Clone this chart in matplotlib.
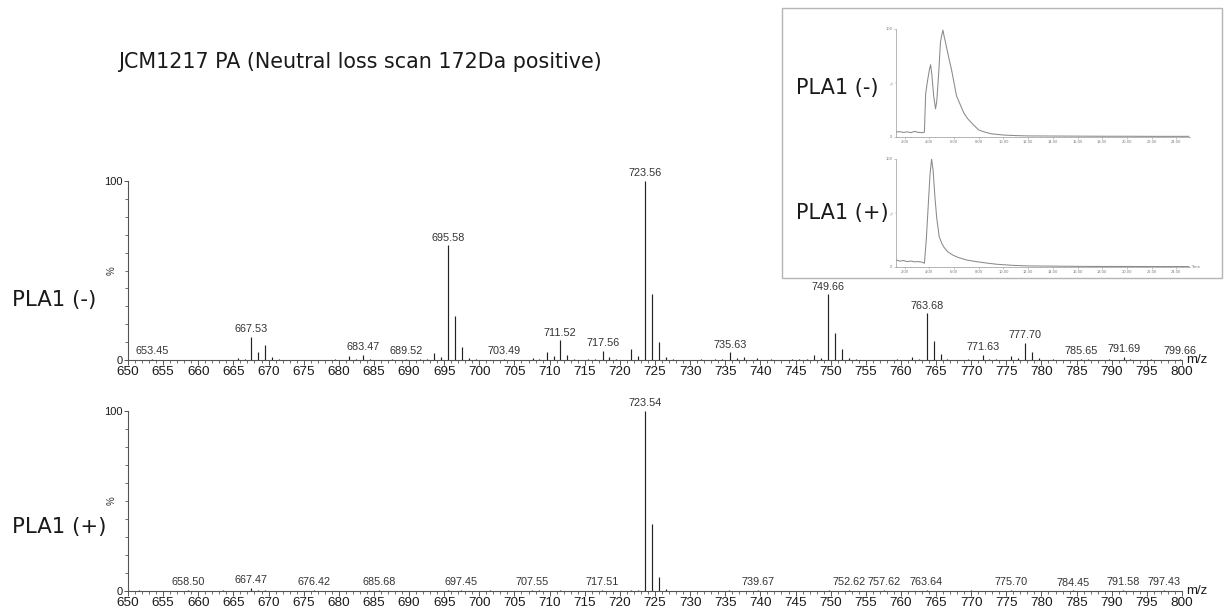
import matplotlib
matplotlib.use('Agg')
import matplotlib.pyplot as plt
from matplotlib.patches import Rectangle
from matplotlib.ticker import MultipleLocator


# Spectrum peaks (m/z, relative intensity %)
top_mz = [653.45, 665.6, 666.6, 667.53, 668.5, 669.5, 670.5, 671.5, 679.5, 681.5,
          682.5, 683.47, 684.5, 687.5, 689.52, 691.5, 692.5, 693.5, 694.5, 695.58,
          696.6, 697.6, 698.5, 699.5, 703.49, 707.6, 708.5, 709.6, 710.6, 711.52,
          712.5, 713.5, 715.5, 716.5, 717.56, 718.5, 719.5, 721.6, 722.6, 723.56,
          724.6, 725.6, 726.6, 727.5, 731.5, 733.6, 734.5, 735.63, 736.6, 737.6,
          739.5, 741.5, 744.5, 745.5, 746.6, 747.6, 748.6, 749.66, 750.6, 751.6,
          752.6, 753.6, 759.5, 761.6, 762.6, 763.68, 764.7, 765.7, 766.6, 769.6,
          771.63, 772.6, 773.6, 775.7, 776.6, 777.70, 778.7, 779.7, 781.6, 785.65,
          786.6, 789.6, 791.69, 792.6, 795.6, 799.66]
top_int = [0.6, 1.2, 0.5, 13.0, 4.3, 8.4, 1.9, 0.5, 0.5, 2.0,
           0.8, 2.8, 0.7, 0.4, 0.6, 0.5, 0.5, 4.0, 1.5, 64.0,
           24.8, 7.0, 1.2, 0.4, 0.6, 1.0, 0.5, 4.5, 2.0, 11.0,
           2.6, 0.8, 0.5, 0.6, 5.0, 1.5, 0.8, 6.3, 2.2, 100.0,
           37.0, 10.0, 1.5, 0.4, 0.7, 0.6, 0.5, 4.3, 1.2, 1.8,
           1.0, 0.5, 0.8, 0.6, 0.6, 3.0, 1.0, 36.7, 15.3, 6.3,
           1.3, 0.5, 0.5, 1.5, 0.6, 26.0, 10.6, 3.1, 0.7, 0.4,
           2.8, 0.8, 0.5, 2.2, 1.0, 9.7, 4.3, 1.0, 0.4, 0.7,
           0.4, 0.5, 1.6, 0.5, 0.4, 0.7]
top_labels = [653.45, 667.53, 683.47, 689.52, 695.58, 703.49, 711.52, 717.56, 723.56,
              735.63, 749.66, 763.68, 771.63, 777.70, 785.65, 791.69, 799.66]

bot_mz = [651.5, 658.50, 663.5, 667.47, 668.5, 669.5, 676.42, 685.68, 695.5, 697.45,
          701.5, 707.55, 708.5, 711.5, 717.51, 721.6, 722.6, 723.54, 724.6, 725.6,
          726.6, 735.6, 739.67, 749.7, 752.62, 757.62, 763.64, 770.0, 775.70, 784.45,
          791.58, 797.43]
bot_int = [0.3, 0.5, 0.3, 1.8, 0.6, 0.5, 0.5, 0.5, 0.3, 0.5,
           0.4, 0.5, 0.3, 0.3, 0.6, 0.4, 0.4, 100.0, 37.0, 7.6,
           1.2, 0.4, 0.5, 0.5, 0.5, 0.5, 0.6, 0.4, 0.5, 0.4,
           0.6, 0.5]
bot_labels = [658.50, 667.47, 676.42, 685.68, 697.45, 707.55, 717.51, 723.54, 739.67,
              752.62, 757.62, 763.64, 775.70, 784.45, 791.58, 797.43]

# Inset chromatograms (time min, %)
chrom1_t = [1.3, 1.6, 1.9, 2.2, 2.5, 2.8, 3.1, 3.4, 3.6, 3.7, 3.85, 4.0, 4.1, 4.2,
            4.35, 4.5, 4.6, 4.75, 4.9, 5.0, 5.1, 5.2, 5.3, 5.45, 5.6, 5.8, 6.0, 6.2,
            6.5, 6.8, 7.1, 7.5, 8.0, 8.5, 9.0, 10.0, 11.0, 12.0, 14.0, 16.0, 18.0,
            20.0, 22.0, 24.0, 25.0]
chrom1_i = [4.5, 5.0, 4.2, 4.8, 4.0, 5.2, 4.3, 4.0, 4.5, 40, 52, 62, 67, 58,
            38, 26, 33, 58, 88, 94, 99, 93, 88, 80, 72, 62, 50, 38,
            30, 22, 17, 12, 6.5, 4.5, 3.0, 1.8, 1.3, 1.0, 0.9, 0.8, 0.7,
            0.7, 0.6, 0.6, 0.6]
chrom2_t = [1.3, 1.6, 1.9, 2.2, 2.5, 2.8, 3.1, 3.4, 3.6, 3.75, 3.9, 4.05, 4.18, 4.3,
            4.45, 4.6, 4.8, 5.0, 5.2, 5.5, 5.9, 6.3, 7.0, 7.8, 8.6, 9.5, 10.8, 12.0,
            14.0, 16.0, 18.0, 20.0, 22.0, 24.0, 25.0]
chrom2_i = [6.5, 5.5, 6.0, 5.0, 5.5, 4.8, 5.0, 4.5, 3.5, 25, 55, 85, 100, 90,
            65, 45, 28, 22, 18, 14, 11, 9, 6.5, 5, 3.7, 2.5, 1.5, 1.0,
            0.8, 0.6, 0.5, 0.5, 0.4, 0.4, 0.4]

W, H = 1230, 610
TXT = '#1a1a1a'
NUM_FONT = 'Liberation Sans'


def px(x, y):
    return x / W, 1 - y / H


def spectrum(ax, mz, inten, labels):
    ax.vlines(mz, 0, inten, color='#222222', lw=0.85)
    for m, i in zip(mz, inten):
        if any(abs(m - l) < 0.005 for l in labels):
            ax.annotate(f'{m:.2f}', (m, i), xytext=(0, 2), textcoords='offset points',
                        ha='center', va='bottom', fontsize=7.8, family=NUM_FONT,
                        color='#333333', annotation_clip=False)
    ax.set_xlim(650, 800)
    ax.set_ylim(0, 100)
    for s in ['top', 'right']:
        ax.spines[s].set_visible(False)
    for s in ['left', 'bottom']:
        ax.spines[s].set_color('#555555')
        ax.spines[s].set_linewidth(0.8)
    ax.xaxis.set_major_locator(MultipleLocator(5))
    ax.xaxis.set_minor_locator(MultipleLocator(1))
    ax.set_yticks([0, 100])
    ax.yaxis.set_minor_locator(MultipleLocator(10))
    ax.tick_params(axis='x', which='major', length=3.5, width=0.7, pad=1,
                   labelsize=9.7, colors='#555555', labelcolor=TXT)
    ax.tick_params(axis='x', which='minor', length=1.8, width=0.6, colors='#555555')
    ax.tick_params(axis='y', which='major', length=3, width=0.7, pad=1,
                   labelsize=8, colors='#555555', labelcolor=TXT)
    ax.tick_params(axis='y', which='minor', length=2, width=0.6, colors='#555555')
    for lab in ax.get_xticklabels() + ax.get_yticklabels():
        lab.set_family(NUM_FONT)
    ax.set_ylabel('%', fontsize=7, family=NUM_FONT, color='#333333')
    ax.yaxis.set_label_coords(-0.011, 0.5)
    ax.text(1.004, 0.0, 'm/z', transform=ax.transAxes, fontsize=9.5, family=NUM_FONT,
            color=TXT, ha='left', va='center')


def chromatogram(ax, t, inten, last):
    ax.plot(t, inten, color='#8a8a8a', lw=0.75)
    ax.set_xlim(1.3, 25.1)
    ax.set_ylim(0, 100)
    ax.patch.set_alpha(0)
    for s in ['top', 'right']:
        ax.spines[s].set_visible(False)
    for s in ['left', 'bottom']:
        ax.spines[s].set_color('#9a9a9a')
        ax.spines[s].set_linewidth(0.5)
    ax.set_xticks(range(2, 25, 2))
    ax.set_xticklabels([f'{v}.00' for v in range(2, 25, 2)])
    ax.xaxis.set_minor_locator(MultipleLocator(0.5))
    ax.set_yticks([0, 100])
    ax.yaxis.set_minor_locator(MultipleLocator(50))
    ax.tick_params(which='major', length=1.5, width=0.4, pad=1, labelsize=2.6,
                   colors='#9a9a9a', labelcolor='#777777')
    ax.tick_params(which='minor', length=0.8, width=0.3, colors='#9a9a9a')
    ax.text(-0.012, 0.5, '%', transform=ax.transAxes, fontsize=2.6, color='#999999',
            ha='center', va='center', rotation=90)
    if last:
        ax.text(1.005, 0.0, 'Time', transform=ax.transAxes, fontsize=2.6,
                color='#777777', ha='left', va='center')


fig = plt.figure(figsize=(12.3, 6.1), dpi=100)

left, right = 128, 1182
ax1 = fig.add_axes([left / W, 1 - 360 / H, (right - left) / W, 179 / H])
ax2 = fig.add_axes([left / W, 1 - 591 / H, (right - left) / W, 180 / H])
spectrum(ax1, top_mz, top_int, top_labels)
spectrum(ax2, bot_mz, bot_int, bot_labels)

fig.text(*px(118, 62), 'JCM1217 PA (Neutral loss scan 172Da positive)', fontsize=14.9,
         family='DejaVu Sans', color=TXT, ha='left', va='center')
fig.text(*px(12, 300), 'PLA1 (-)', fontsize=15.3, family='DejaVu Sans', color=TXT,
         ha='left', va='center')
fig.text(*px(12, 527), 'PLA1 (+)', fontsize=15.3, family='DejaVu Sans', color=TXT,
         ha='left', va='center')

# inset with chromatograms
box = Rectangle(px(782, 278), 440 / W, 270 / H, transform=fig.transFigure,
                facecolor='white', edgecolor='#b5b5b5', lw=1.0, zorder=1)
fig.patches.append(box)
ia1 = fig.add_axes([896 / W, 1 - 137 / H, 294 / W, 108 / H], zorder=2)
ia2 = fig.add_axes([896 / W, 1 - 267 / H, 294 / W, 108 / H], zorder=2)
chromatogram(ia1, chrom1_t, chrom1_i, False)
chromatogram(ia2, chrom2_t, chrom2_i, True)
fig.text(*px(796, 88), 'PLA1 (-)', fontsize=15.0, family='DejaVu Sans', color=TXT,
         ha='left', va='center', zorder=3)
fig.text(*px(796, 213), 'PLA1 (+)', fontsize=15.0, family='DejaVu Sans', color=TXT,
         ha='left', va='center', zorder=3)

fig.savefig('out.png', dpi=100)
